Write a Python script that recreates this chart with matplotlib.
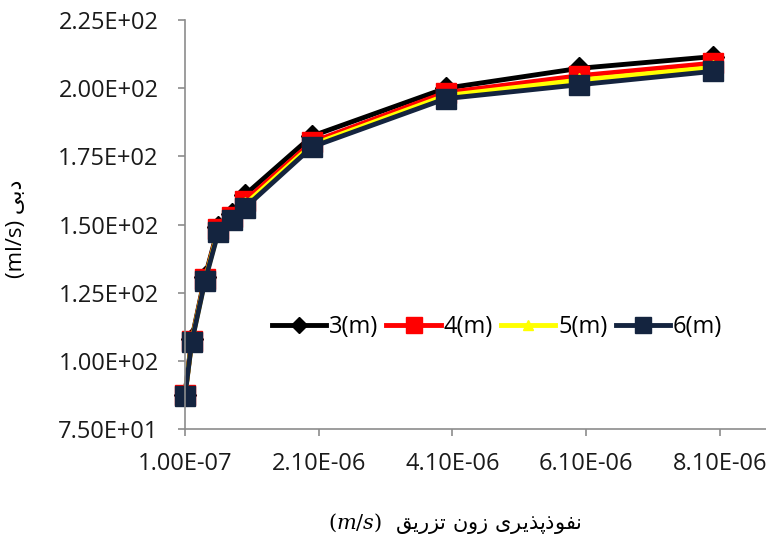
import matplotlib
matplotlib.use('Agg')
import matplotlib.pyplot as plt

# permeability of the injection zone (m/s)
perm = [1e-7, 2e-7, 4e-7, 6e-7, 8e-7, 1e-6, 2e-6, 4e-6, 6e-6, 8e-6]

# flow rate (ml/s) for each zone thickness
q_3m = [87.8, 108.0, 131.0, 149.0, 154.0, 161.0, 182.5, 200.0, 207.3, 211.6]
q_4m = [87.6, 107.5, 130.3, 148.4, 152.9, 158.8, 180.3, 198.4, 204.6, 209.2]
q_5m = [87.5, 107.2, 129.9, 148.0, 152.3, 157.5, 179.3, 197.3, 203.0, 207.6]
q_6m = [87.3, 106.9, 129.5, 147.5, 151.7, 156.3, 178.5, 196.2, 201.3, 206.2]

series_labels = ['3(m)', '4(m)', '5(m)', '6(m)']
x_ticks = [1e-7, 2.1e-6, 4.1e-6, 6.1e-6, 8.1e-6]
y_ticks = [75, 100, 125, 150, 175, 200, 225]

# Persian labels, written in visual order with presentation forms
# (matplotlib does no Arabic shaping / RTL layout by itself)
x_label = ('$(m/s)$  '
           '\uFED6\uFBFE\uFEAD\uFEB0\uFE97 '           # tazrigh
           '\uFEE5\uFEED\uFEAF '                        # zone
           '\uFBFC\uFEAE\uFBFE\uFEAC\uFB58\uFEAB\uFEEE\uFED4\uFEE7')  # nofouzpaziri
y_label = '(ml/s) \uFBFD\uFE91\uFEA9'                   # dobi

plt.rcParams['font.family'] = ['Open Sans', 'DejaVu Sans']
plt.rcParams['mathtext.fontset'] = 'dejavuserif'

fig = plt.figure(figsize=(7.66, 5.36), dpi=100)
ax = fig.add_axes([0.2415, 0.1987, 0.7585, 0.764])

styles = [
    (q_3m, '#000000', 'D', 11),
    (q_4m, '#FF0000', 's', 15),
    (q_5m, '#FFFF00', '^', 10),
    (q_6m, '#14243F', 's', 15),
]
for (vals, col, mk, ms), lab in zip(styles, series_labels):
    ax.plot(perm, vals, color=col, lw=3.5, marker=mk, markersize=ms,
            markerfacecolor=col, markeredgecolor=col, label=lab, clip_on=False)

ax.set_xlim(1e-7, 1e-7 + 8.69e-6)
ax.set_ylim(75, 225)
ax.set_xticks(x_ticks)
ax.set_xticklabels(['%.2E' % v for v in x_ticks])
ax.set_yticks(y_ticks)
ax.set_yticklabels(['%.2E' % v for v in y_ticks])

for side in ['top', 'right']:
    ax.spines[side].set_visible(False)
for side in ['left', 'bottom']:
    ax.spines[side].set_color('#8C8C8C')
    ax.spines[side].set_linewidth(1.2)
ax.tick_params(axis='both', colors='#8C8C8C', length=5, width=1.2,
               labelcolor='#1A1A1A', labelsize=17)
ax.tick_params(axis='y', pad=14)
ax.tick_params(axis='x', pad=11)

ax.set_xlabel(x_label, fontsize=15, family=['DejaVu Sans'])
ax.xaxis.set_label_coords(0.465, -0.2)
ax.set_ylabel(y_label, fontsize=16)
ax.yaxis.set_label_coords(-0.272, 0.49)

ax.legend(loc='center', bbox_to_anchor=(0.537, 0.25), ncol=4, frameon=False,
          fontsize=17, handlelength=2.3, handletextpad=0.12, columnspacing=0.35,
          borderpad=0, markerscale=0.75)

fig.savefig('out.png', dpi=100)
